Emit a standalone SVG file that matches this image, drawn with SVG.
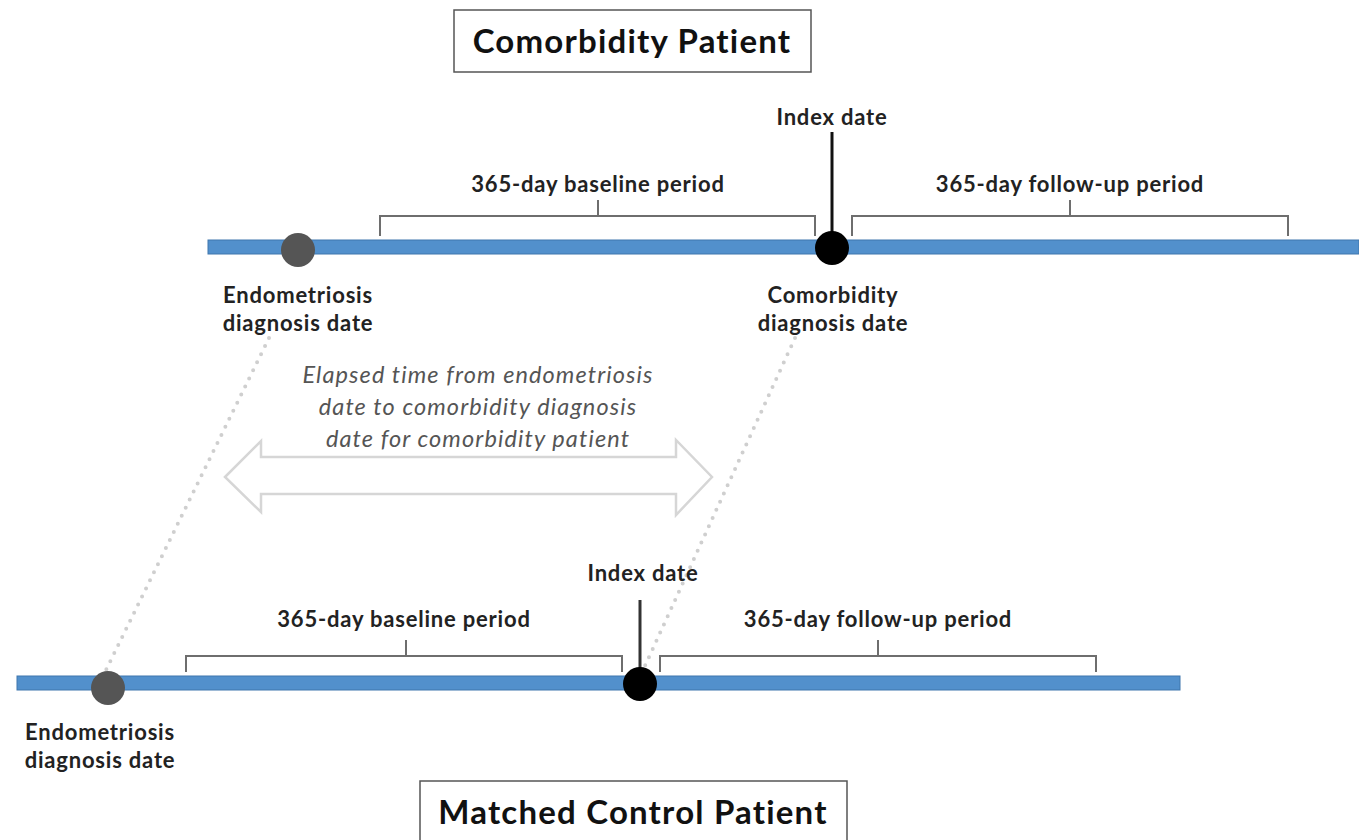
<svg xmlns="http://www.w3.org/2000/svg" width="1359" height="840" viewBox="0 0 1359 840">
<style>
.lbl{font-family:Lato,"Open Sans","Liberation Sans",sans-serif;font-weight:bold;font-size:22px;letter-spacing:0.8px;fill:#222;text-anchor:middle}
.title{font-family:Lato,"Open Sans","Liberation Sans",sans-serif;font-weight:bold;font-size:33px;letter-spacing:1.2px;fill:#111;text-anchor:middle}
.ital{font-family:Lato,"Open Sans","Liberation Sans",sans-serif;font-style:italic;font-size:23.5px;letter-spacing:1.1px;fill:#555;text-anchor:middle}
.bar{fill:#5290cc;stroke:#3f76ad;stroke-width:1}
.brk{fill:none;stroke:#6e6e6e;stroke-width:2}
.dot{fill:none;stroke:#cfcfcf;stroke-width:4;stroke-linecap:round;stroke-dasharray:0 9}
.box{fill:#fff;stroke:#555;stroke-width:1.5}
</style>
<rect width="1359" height="840" fill="#fff"/>
<g id="connectors">
<line class="dot" x1="269" y1="338" x2="106" y2="670"/>
<line class="dot" x1="795" y1="338" x2="644" y2="668"/>
</g>
<g id="elapsed-arrow">
<path d="M225,477 L261,441 L261,457 L676,457 L676,440 L712,477 L676,515 L676,494 L261,494 L261,512 Z" fill="#fff" stroke="#d6d6d6" stroke-width="2.5" stroke-linejoin="miter"/>
<text class="ital" x="478" y="383">Elapsed time from endometriosis</text>
<text class="ital" x="478" y="415">date to comorbidity diagnosis</text>
<text class="ital" x="478" y="447">date for comorbidity patient</text>
</g>
<g id="comorbidity-patient">
<rect class="box" x="454" y="10" width="357" height="62"/>
<text class="title" x="632" y="53">Comorbidity Patient</text>
</g>
<g id="top-timeline">
<rect class="bar" x="208" y="240" width="1151" height="14"/>
<path class="brk" d="M380,236 L380,216 L815,216 L815,236 M598,216 L598,200"/>
<text class="lbl" x="598" y="192">365-day baseline period</text>
<path class="brk" d="M852,236 L852,216 L1288,216 L1288,236 M1070,216 L1070,200"/>
<text class="lbl" x="1070" y="192">365-day follow-up period</text>
<line x1="832" y1="132" x2="832" y2="240" stroke="#111" stroke-width="3"/>
<text class="lbl" x="832" y="125">Index date</text>
</g>
<g id="top-endo">
<circle cx="298" cy="250" r="17" fill="#555"/>
<text class="lbl" x="298" y="303">Endometriosis</text>
<text class="lbl" x="298" y="331">diagnosis date</text>
</g>
<g id="top-comorb">
<circle cx="832" cy="248" r="17" fill="#000"/>
<text class="lbl" x="833" y="303">Comorbidity</text>
<text class="lbl" x="833" y="331">diagnosis date</text>
</g>
<g id="bottom-timeline">
<rect class="bar" x="17" y="676" width="1163" height="14"/>
<path class="brk" d="M186,672 L186,656 L622,656 L622,672 M406,656 L406,640"/>
<text class="lbl" x="404" y="627">365-day baseline period</text>
<path class="brk" d="M660,672 L660,656 L1096,656 L1096,672 M878,656 L878,640"/>
<text class="lbl" x="878" y="627">365-day follow-up period</text>
<line x1="640" y1="600" x2="640" y2="670" stroke="#333" stroke-width="3"/>
<text class="lbl" x="643" y="581">Index date</text>
</g>
<g id="bottom-endo">
<circle cx="108" cy="688" r="17" fill="#555"/>
<text class="lbl" x="100" y="740">Endometriosis</text>
<text class="lbl" x="100" y="768">diagnosis date</text>
</g>
<g id="bottom-index">
<circle cx="640" cy="684" r="17" fill="#000"/>
</g>
<g id="matched-control-patient">
<rect class="box" x="420" y="781" width="427" height="70"/>
<text class="title" x="633" y="824">Matched Control Patient</text>
</g>
</svg>
